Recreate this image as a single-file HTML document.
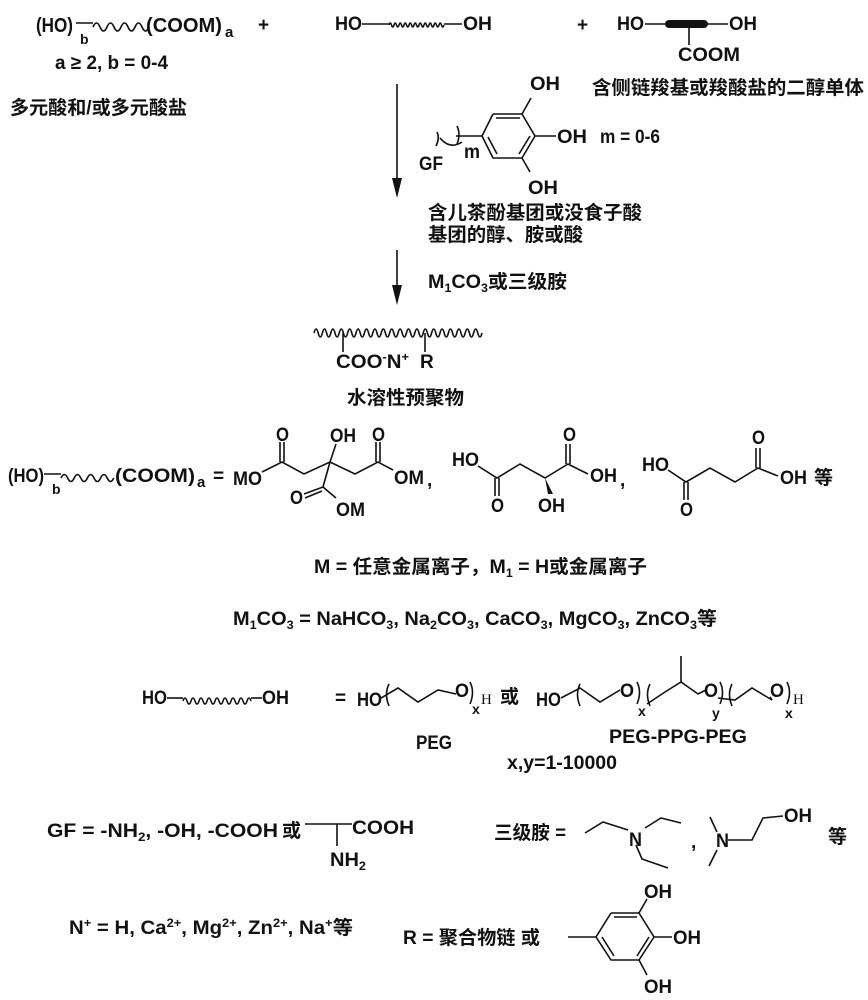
<!DOCTYPE html>
<html><head><meta charset="utf-8"><style>
html,body{margin:0;padding:0;background:#fff}
svg{display:block}
text{font-family:"Liberation Sans","Noto Sans CJK SC",sans-serif;font-weight:bold;font-size:19px;fill:#111}
.s{font-size:12px}
path,line,polyline{stroke:#111;stroke-width:1.6;fill:none}
</style></head><body>
<svg width="868" height="1000" viewBox="0 0 868 1000" xmlns="http://www.w3.org/2000/svg">
<!-- Row 1 -->
<text x="36" y="32" textLength="37" lengthAdjust="spacingAndGlyphs" style="font-size:20px">(HO)</text>
<text x="80" y="44" style="font-size:14px">b</text>
<line x1="76" y1="23" x2="93" y2="23"/>
<path d="M93 27 q3.5 -8 7 0 t7 0 t7 0 t7 0 t7 0 t7 0 t7 0 t7 0"/>
<text x="146" y="32" textLength="76" lengthAdjust="spacingAndGlyphs" style="font-size:20px">(COOM)</text>
<text x="225" y="37" style="font-size:15px">a</text>
<text x="258" y="31">+</text>
<text x="55" y="69" textLength="113" lengthAdjust="spacingAndGlyphs">a ≥ 2, b = 0-4</text>
<text x="10" y="114" textLength="177" lengthAdjust="spacingAndGlyphs">多元酸和/或多元酸盐</text>

<text x="335" y="30" textLength="27" lengthAdjust="spacingAndGlyphs">HO</text>
<line x1="362" y1="24" x2="389" y2="24"/>
<path d="M389 25 q1.25 -4 2.5 0 t2.5 0 t2.5 0 t2.5 0 t2.5 0 t2.5 0 t2.5 0 t2.5 0 t2.5 0 t2.5 0 t2.5 0 t2.5 0 t2.5 0 t2.5 0 t2.5 0 t2.5 0 t2.5 0 t2.5 0 t2.5 0 t2.5 0 t2.5 0 t2.5 0" stroke-width="1.2"/>
<line x1="444" y1="24" x2="462" y2="24"/>
<text x="463" y="30" textLength="29" lengthAdjust="spacingAndGlyphs">OH</text>

<text x="577" y="31">+</text>
<text x="617" y="30" textLength="27" lengthAdjust="spacingAndGlyphs">HO</text>
<line x1="645" y1="24" x2="667" y2="24"/>
<rect x="665" y="20" width="43" height="8" rx="4" fill="#111"/>
<line x1="706" y1="24" x2="728" y2="24"/>
<text x="729" y="30" textLength="28" lengthAdjust="spacingAndGlyphs">OH</text>
<line x1="689" y1="28" x2="689" y2="45"/>
<text x="678" y="61" textLength="62" lengthAdjust="spacingAndGlyphs">COOM</text>
<text x="592" y="94" textLength="272" lengthAdjust="spacingAndGlyphs">含侧链羧基或羧酸盐的二醇单体</text>

<!-- arrow 1 -->
<line x1="397" y1="84" x2="397" y2="185"/>
<polygon points="392,178 402,178 397,198" fill="#111"/>
<!-- gallol GF -->
<polyline points="493,114 522,114 535,136 522,158 493,158 482,136 493,114"/>
<line x1="496" y1="118" x2="520" y2="118"/>
<line x1="530" y1="136" x2="519" y2="154"/>
<line x1="497" y1="154" x2="488" y2="137"/>
<line x1="522" y1="114" x2="531" y2="98"/>
<line x1="535" y1="136" x2="556" y2="136"/>
<line x1="522" y1="158" x2="530" y2="172"/>
<text x="530" y="90" textLength="30" lengthAdjust="spacingAndGlyphs">OH</text>
<text x="557" y="143" textLength="30" lengthAdjust="spacingAndGlyphs">OH</text>
<text x="528" y="194" textLength="30" lengthAdjust="spacingAndGlyphs">OH</text>
<line x1="482" y1="136" x2="456" y2="136"/>
<path d="M457 126 q4 8 0 18"/>
<path d="M440 138 q10 12 22 4"/>
<path d="M437 132 q3 6 -1 14" />
<text x="419" y="170" textLength="24" lengthAdjust="spacingAndGlyphs">GF</text>
<text x="464" y="158" textLength="16" lengthAdjust="spacingAndGlyphs">m</text>
<text x="600" y="143" textLength="60" lengthAdjust="spacingAndGlyphs">m = 0-6</text>
<text x="428" y="219" textLength="214" lengthAdjust="spacingAndGlyphs">含儿茶酚基团或没食子酸</text>
<text x="428" y="241" textLength="155" lengthAdjust="spacingAndGlyphs">基团的醇、胺或酸</text>

<!-- arrow 2 -->
<line x1="397" y1="250" x2="397" y2="292"/>
<polygon points="392,285 402,285 397,305" fill="#111"/>
<text x="428" y="288" textLength="139" lengthAdjust="spacingAndGlyphs">M<tspan class="s" dy="4">1</tspan><tspan dy="-4">CO</tspan><tspan class="s" dy="4">3</tspan><tspan dy="-4">或三级胺</tspan></text>

<!-- polymer -->
<path d="M314 333 q2.1 -8 4.2 0 t4.2 0 t4.2 0 t4.2 0 t4.2 0 t4.2 0 t4.2 0 t4.2 0 t4.2 0 t4.2 0 t4.2 0 t4.2 0 t4.2 0 t4.2 0 t4.2 0 t4.2 0 t4.2 0 t4.2 0 t4.2 0 t4.2 0 t4.2 0 t4.2 0 t4.2 0 t4.2 0 t4.2 0 t4.2 0 t4.2 0 t4.2 0 t4.2 0 t4.2 0 t4.2 0 t4.2 0 t4.2 0 t4.2 0 t4.2 0 t4.2 0 t4.2 0 t4.2 0 t4.2 0 t4.2 0"/>
<line x1="343" y1="333" x2="343" y2="352"/>
<line x1="425" y1="333" x2="425" y2="352"/>
<text x="336" y="368" textLength="73" lengthAdjust="spacingAndGlyphs">COO<tspan class="s" dy="-7">-</tspan><tspan dy="7">N</tspan><tspan class="s" dy="-7">+</tspan></text>
<text x="420" y="368">R</text>
<text x="347" y="404" textLength="117" lengthAdjust="spacingAndGlyphs">水溶性预聚物</text>

<!-- row: polyacid examples -->
<text x="8" y="482" textLength="36" lengthAdjust="spacingAndGlyphs">(HO)</text>
<text x="52" y="494" style="font-size:14px">b</text>
<line x1="44" y1="474" x2="61" y2="474"/>
<path d="M61 478 q3.3 -7 6.6 0 t6.6 0 t6.6 0 t6.6 0 t6.6 0 t6.6 0 t6.6 0 t6.6 0"/>
<text x="115" y="482" textLength="80" lengthAdjust="spacingAndGlyphs">(COOM)</text>
<text x="197" y="487" style="font-size:15px">a</text>
<text x="213" y="482">=</text>
<!-- citrate -->
<text x="233" y="485" textLength="29" lengthAdjust="spacingAndGlyphs">MO</text>
<polyline points="262,472 282,462 304,474 330,462 355,474 378,462 393,470"/>
<line x1="280" y1="462" x2="280" y2="442"/><line x1="284" y1="462" x2="284" y2="442"/>
<line x1="376" y1="462" x2="376" y2="442"/><line x1="380" y1="462" x2="380" y2="442"/>
<line x1="330" y1="462" x2="336" y2="444"/>
<line x1="330" y1="462" x2="323" y2="487"/>
<line x1="323" y1="487" x2="304" y2="494"/><line x1="322" y1="491" x2="305" y2="498"/>
<line x1="323" y1="487" x2="336" y2="498"/>
<text x="276" y="441" textLength="13" lengthAdjust="spacingAndGlyphs">O</text>
<text x="330" y="442" textLength="26" lengthAdjust="spacingAndGlyphs">OH</text>
<text x="372" y="441" textLength="13" lengthAdjust="spacingAndGlyphs">O</text>
<text x="394" y="484" textLength="30" lengthAdjust="spacingAndGlyphs">OM</text>
<text x="290" y="504" textLength="13" lengthAdjust="spacingAndGlyphs">O</text>
<text x="336" y="516" textLength="29" lengthAdjust="spacingAndGlyphs">OM</text>
<text x="427" y="486">,</text>
<!-- malic -->
<text x="452" y="466" textLength="27" lengthAdjust="spacingAndGlyphs">HO</text>
<polyline points="478,466 497,478 520,464 545,478 568,464 588,474"/>
<line x1="495" y1="478" x2="495" y2="496"/><line x1="499" y1="478" x2="499" y2="496"/>
<line x1="566" y1="464" x2="566" y2="444"/><line x1="570" y1="464" x2="570" y2="444"/>
<polygon points="545,478 548,494 553,494" fill="#111"/>
<text x="563" y="441" textLength="13" lengthAdjust="spacingAndGlyphs">O</text>
<text x="590" y="482" textLength="27" lengthAdjust="spacingAndGlyphs">OH</text>
<text x="491" y="512" textLength="13" lengthAdjust="spacingAndGlyphs">O</text>
<text x="538" y="512" textLength="27" lengthAdjust="spacingAndGlyphs">OH</text>
<text x="620" y="486">,</text>
<!-- succinic -->
<text x="642" y="471" textLength="27" lengthAdjust="spacingAndGlyphs">HO</text>
<polyline points="668,470 686,482 710,468 735,482 758,468 778,476"/>
<line x1="684" y1="482" x2="684" y2="500"/><line x1="688" y1="482" x2="688" y2="500"/>
<line x1="756" y1="468" x2="756" y2="448"/><line x1="760" y1="468" x2="760" y2="448"/>
<text x="752" y="444" textLength="13" lengthAdjust="spacingAndGlyphs">O</text>
<text x="780" y="484" textLength="27" lengthAdjust="spacingAndGlyphs">OH</text>
<text x="680" y="516" textLength="13" lengthAdjust="spacingAndGlyphs">O</text>
<text x="814" y="484">等</text>

<text x="314" y="573" textLength="333" lengthAdjust="spacingAndGlyphs">M = 任意金属离子，M<tspan class="s" dy="4">1</tspan><tspan dy="-4"> = H或金属离子</tspan></text>
<text x="233" y="625" textLength="484" lengthAdjust="spacingAndGlyphs">M<tspan class="s" dy="4">1</tspan><tspan dy="-4">CO</tspan><tspan class="s" dy="4">3</tspan><tspan dy="-4"> = NaHCO</tspan><tspan class="s" dy="4">3</tspan><tspan dy="-4">, Na</tspan><tspan class="s" dy="4">2</tspan><tspan dy="-4">CO</tspan><tspan class="s" dy="4">3</tspan><tspan dy="-4">, CaCO</tspan><tspan class="s" dy="4">3</tspan><tspan dy="-4">, MgCO</tspan><tspan class="s" dy="4">3</tspan><tspan dy="-4">, ZnCO</tspan><tspan class="s" dy="4">3</tspan><tspan dy="-4">等</tspan></text>

<!-- HO~~OH = PEG -->
<text x="142" y="704" textLength="25" lengthAdjust="spacingAndGlyphs">HO</text>
<line x1="167" y1="698" x2="183" y2="698"/>
<path d="M183 701 q2 -6 4 0 t4 0 t4 0 t4 0 t4 0 t4 0 t4 0 t4 0 t4 0 t4 0 t4 0 t4 0 t4 0 t4 0 t4 0 t4 0 t4 0" stroke-width="1.3"/>
<line x1="251" y1="698" x2="262" y2="698"/>
<text x="262" y="704" textLength="27" lengthAdjust="spacingAndGlyphs">OH</text>
<text x="335" y="704">=</text>
<text x="357" y="706" textLength="25" lengthAdjust="spacingAndGlyphs">HO</text>
<path d="M389 684 q-5 10 0 22"/>
<polyline points="381,698 398,688 418,702 438,690 456,694"/>
<text x="455" y="697" textLength="14" lengthAdjust="spacingAndGlyphs">O</text>
<path d="M470 682 q5 10 0 22"/>
<text x="472" y="714" style="font-size:14px">x</text>
<text x="481" y="704" style="font-family:'Liberation Serif',serif;font-weight:normal;font-size:15px">H</text>
<text x="500" y="703">或</text>
<text x="536" y="706" textLength="25" lengthAdjust="spacingAndGlyphs">HO</text>
<path d="M580 684 q-5 10 0 22"/>
<polyline points="561,698 580,688 600,702 620,690"/>
<text x="620" y="697" textLength="14" lengthAdjust="spacingAndGlyphs">O</text>
<path d="M637 682 q5 10 0 22"/>
<text x="638" y="716" style="font-size:14px">x</text>
<path d="M650 684 q-5 10 0 22"/>
<polyline points="647,704 665,692 681,682 698,694 706,690"/>
<line x1="681" y1="682" x2="681" y2="656"/>
<text x="704" y="697" textLength="14" lengthAdjust="spacingAndGlyphs">O</text>
<text x="712" y="718" style="font-size:14px">y</text>
<path d="M720 682 q5 10 0 22"/>
<path d="M732 684 q-5 10 0 22"/>
<polyline points="718,698 735,700 752,688 772,700 770,697"/>
<text x="770" y="697" textLength="14" lengthAdjust="spacingAndGlyphs">O</text>
<path d="M787 682 q5 10 0 22"/>
<text x="785" y="718" style="font-size:14px">x</text>
<text x="793" y="704" style="font-family:'Liberation Serif',serif;font-weight:normal;font-size:15px">H</text>
<text x="416" y="749" textLength="36" lengthAdjust="spacingAndGlyphs">PEG</text>
<text x="609" y="743" textLength="138" lengthAdjust="spacingAndGlyphs">PEG-PPG-PEG</text>
<text x="507" y="769" textLength="110" lengthAdjust="spacingAndGlyphs">x,y=1-10000</text>

<!-- GF row -->
<text x="47" y="837" textLength="231" lengthAdjust="spacingAndGlyphs">GF = -NH<tspan class="s" dy="4">2</tspan><tspan dy="-4">, -OH,  -COOH</tspan></text>
<text x="282" y="837">或</text>
<line x1="305" y1="824" x2="352" y2="824"/>
<line x1="337" y1="824" x2="337" y2="846"/>
<text x="352" y="834" textLength="62" lengthAdjust="spacingAndGlyphs">COOH</text>
<text x="330" y="866" textLength="36" lengthAdjust="spacingAndGlyphs">NH<tspan class="s" dy="4">2</tspan></text>

<text x="494" y="839" textLength="72" lengthAdjust="spacingAndGlyphs">三级胺 =</text>
<polyline points="585,833 603,822 628,830"/>
<polyline points="645,828 661,818 681,823"/>
<polyline points="636,845 642,859 668,868"/>
<text x="629" y="846" textLength="13" lengthAdjust="spacingAndGlyphs">N</text>
<text x="691" y="848">,</text>
<polyline points="710,817 717,832"/>
<polyline points="717,850 709,866"/>
<polyline points="728,840 752,840 763,818 783,816"/>
<text x="716" y="847" textLength="13" lengthAdjust="spacingAndGlyphs">N</text>
<text x="784" y="822" textLength="28" lengthAdjust="spacingAndGlyphs">OH</text>
<text x="828" y="843">等</text>

<!-- N+ row -->
<text x="69" y="934" textLength="284" lengthAdjust="spacingAndGlyphs">N<tspan class="s" dy="-7">+</tspan><tspan dy="7"> = H, Ca</tspan><tspan class="s" dy="-7">2+</tspan><tspan dy="7">, Mg</tspan><tspan class="s" dy="-7">2+</tspan><tspan dy="7">, Zn</tspan><tspan class="s" dy="-7">2+</tspan><tspan dy="7">, Na</tspan><tspan class="s" dy="-7">+</tspan><tspan dy="7">等</tspan></text>
<text x="403" y="944" textLength="137" lengthAdjust="spacingAndGlyphs">R = 聚合物链 或</text>
<polyline points="611,913 639,913 654,937 639,960 611,960 596,937 611,913"/>
<line x1="614" y1="917" x2="637" y2="917"/>
<line x1="649" y1="937" x2="637" y2="956"/>
<line x1="614" y1="956" x2="602" y2="937"/>
<line x1="568" y1="937" x2="596" y2="937"/>
<line x1="639" y1="913" x2="647" y2="899"/>
<line x1="654" y1="937" x2="672" y2="937"/>
<line x1="639" y1="960" x2="647" y2="975"/>
<text x="644" y="898" textLength="28" lengthAdjust="spacingAndGlyphs">OH</text>
<text x="673" y="944" textLength="28" lengthAdjust="spacingAndGlyphs">OH</text>
<text x="644" y="993" textLength="28" lengthAdjust="spacingAndGlyphs">OH</text>
</svg>
</body></html>
